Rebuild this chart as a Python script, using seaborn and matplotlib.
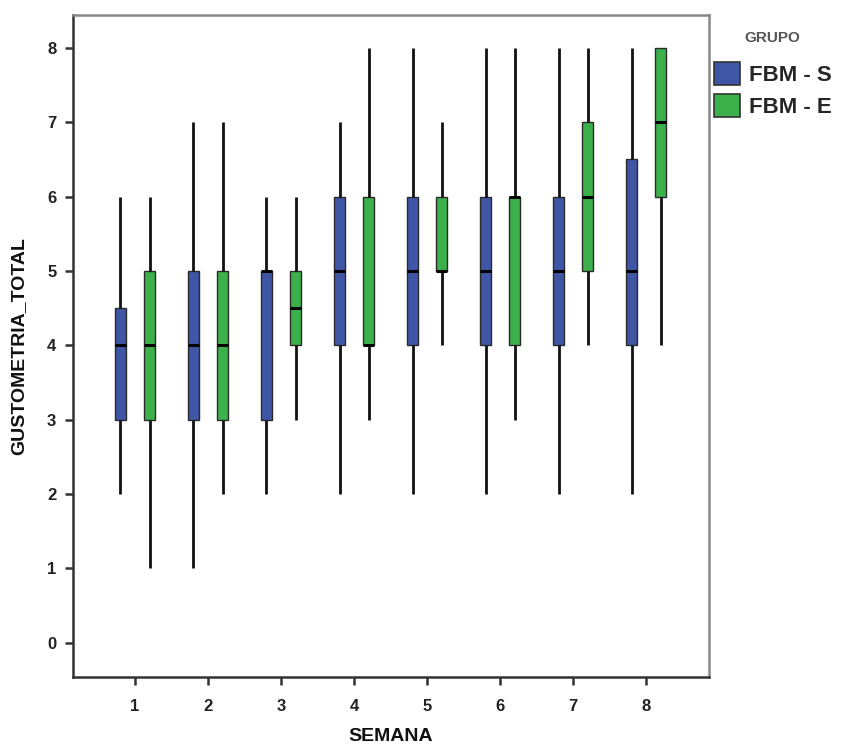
import numpy as np
import pandas as pd
import matplotlib
matplotlib.use("Agg")
import matplotlib.pyplot as plt
import seaborn as sns
from matplotlib.patches import Patch

weeks = ["1", "2", "3", "4", "5", "6", "7", "8"]
groups = ["FBM - S", "FBM - E"]

# five-number summaries per week (min, q1, median, q3, max)
s_min = [2, 1, 2, 2, 2, 2, 2, 2]
s_q1 = [3, 3, 3, 4, 4, 4, 4, 4]
s_med = [4, 4, 5, 5, 5, 5, 5, 5]
s_q3 = [4.5, 5, 5, 6, 6, 6, 6, 6.5]
s_max = [6, 7, 6, 7, 8, 8, 8, 8]

e_min = [1, 2, 3, 3, 4, 3, 4, 4]
e_q1 = [3, 3, 4, 4, 5, 4, 5, 6]
e_med = [4, 4, 4.5, 4, 5, 6, 6, 7]
e_q3 = [5, 5, 5, 6, 6, 6, 7, 8]
e_max = [6, 7, 6, 8, 7, 8, 8, 8]

rows = []
for i, w in enumerate(weeks):
    for g, arrs in ((groups[0], (s_min, s_q1, s_med, s_q3, s_max)),
                    (groups[1], (e_min, e_q1, e_med, e_q3, e_max))):
        for a in arrs:
            rows.append({"SEMANA": w, "GRUPO": g, "GUSTOMETRIA_TOTAL": a[i]})
df = pd.DataFrame(rows)

sns.set_style("white")
plt.rcParams["font.family"] = ["Liberation Sans", "DejaVu Sans"]

fig = plt.figure(figsize=(8.44, 7.51), dpi=100)
ax = fig.add_axes([0.0865, 0.0985, 0.7535, 0.8815])

palette = {"FBM - S": "#3f56a6", "FBM - E": "#3bb04b"}
sns.boxplot(data=df, x="SEMANA", y="GUSTOMETRIA_TOTAL", hue="GRUPO",
            order=weeks, hue_order=groups, palette=palette,
            whis=np.inf, width=0.8, gap=0.62, dodge=True, ax=ax,
            linecolor="#2a2a2a", linewidth=1.0, saturation=1,
            showcaps=False, legend=False,
            whiskerprops={"linewidth": 2.0, "color": "#111111"},
            medianprops={"linewidth": 2.2, "color": "#000000"},
            boxprops={"linewidth": 1.0})

ax.set_xlim(-0.85, 7.86)
ax.set_ylim(-0.46, 8.44)
ax.set_yticks(range(0, 9))
ax.set_yticklabels([str(v) for v in range(0, 9)])

for side in ["left", "bottom", "top", "right"]:
    ax.spines[side].set_visible(True)
ax.spines["left"].set_color("#333333")
ax.spines["bottom"].set_color("#333333")
ax.spines["top"].set_color("#888888")
ax.spines["right"].set_color("#888888")
for s in ax.spines.values():
    s.set_linewidth(1.8)

ax.tick_params(axis="both", which="both", direction="out", length=6, width=1.8,
               color="#333333", labelsize=12, left=True, bottom=True, pad=6)
ax.tick_params(axis="x", pad=10)
for lab in ax.get_xticklabels() + ax.get_yticklabels():
    lab.set_fontweight("bold")
    lab.set_color("#222222")

ax.set_xlabel("SEMANA", fontsize=14, fontweight="bold", color="#111111", labelpad=10)
ax.set_ylabel("GUSTOMETRIA_TOTAL", fontsize=14, fontweight="bold", color="#111111", labelpad=14)

handles = [Patch(facecolor=palette[g], edgecolor="#333333", linewidth=1.2, label=g) for g in groups]
leg = fig.legend(handles=handles, title="GRUPO", loc="upper left",
                 bbox_to_anchor=(0.835, 0.97), frameon=False,
                 prop={"size": 16, "weight": "bold"},
                 handlelength=1.2, handleheight=1.2, handletextpad=0.4,
                 labelspacing=0.35, borderaxespad=0)
leg.get_title().set_fontsize(11)
leg.get_title().set_fontweight("bold")
leg.get_title().set_color("#555555")
leg._legend_box.sep = 12

fig.savefig("out.png", dpi=100)
